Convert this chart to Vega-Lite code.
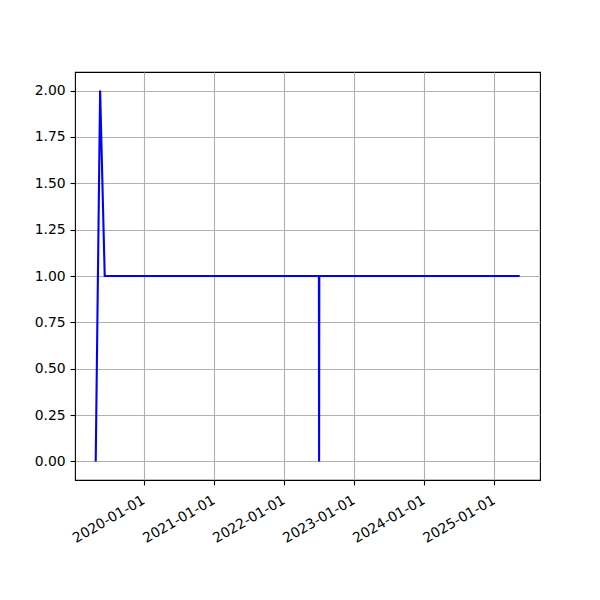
{
  "$schema": "https://vega.github.io/schema/vega-lite/v6.json",
  "width": 465,
  "height": 408,
  "autosize": {"type": "none"},
  "padding": {"left": 75, "top": 72, "right": 60, "bottom": 120},
  "background": "white",
  "config": {
    "view": {"stroke": "black", "strokeWidth": 1.1},
    "font": "DejaVu Sans",
    "axis": {
      "labelFont": "DejaVu Sans",
      "labelFontSize": 13.9,
      "labelColor": "black",
      "tickColor": "black",
      "tickSize": 4.9,
      "tickWidth": 1.1,
      "domain": false,
      "grid": true,
      "gridColor": "#b0b0b0",
      "gridWidth": 1.1,
      "title": null
    }
  },
  "data": {
    "values": [
      {"date": "2019-04-24", "value": 0},
      {"date": "2019-05-17", "value": 2},
      {"date": "2019-06-10", "value": 1},
      {"date": "2022-07-01", "value": 1},
      {"date": "2022-07-02", "value": 0},
      {"date": "2022-07-03", "value": 1},
      {"date": "2025-05-13", "value": 1}
    ]
  },
  "mark": {"type": "line", "color": "#0000ff", "strokeWidth": 2.1, "clip": true},
  "encoding": {
    "x": {
      "field": "date",
      "type": "temporal",
      "scale": {
        "type": "utc",
        "domain": [
          {"year": 2019, "month": 1, "date": 6, "utc": true},
          {"year": 2025, "month": 8, "date": 27, "utc": true}
        ]
      },
      "axis": {
        "values": [
          {"year": 2020, "month": 1, "date": 1, "utc": true},
          {"year": 2021, "month": 1, "date": 1, "utc": true},
          {"year": 2022, "month": 1, "date": 1, "utc": true},
          {"year": 2023, "month": 1, "date": 1, "utc": true},
          {"year": 2024, "month": 1, "date": 1, "utc": true},
          {"year": 2025, "month": 1, "date": 1, "utc": true}
        ],
        "labelExpr": "utcFormat(datum.value, '%Y-%m-%d')",
        "labelAngle": -30,
        "labelAlign": "right",
        "labelBaseline": "top",
        "labelPadding": 8,
        "labelOffset": -4,
        "labelFlush": false,
        "labelOverlap": false
      }
    },
    "y": {
      "field": "value",
      "type": "quantitative",
      "scale": {"domain": [-0.1, 2.1], "nice": false, "zero": false},
      "axis": {
        "values": [0, 0.25, 0.5, 0.75, 1, 1.25, 1.5, 1.75, 2],
        "format": ".2f",
        "labelPadding": 4.9
      }
    }
  }
}
